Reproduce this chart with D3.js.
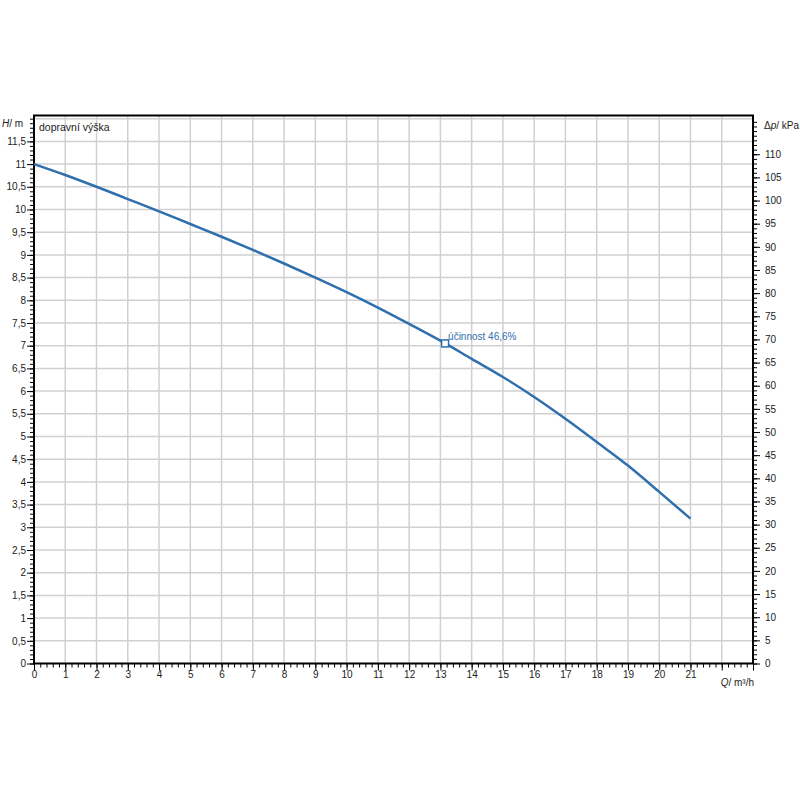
<!DOCTYPE html>
<html><head><meta charset="utf-8">
<script src="https://cdn.jsdelivr.net/npm/d3@7"></script>
<style>body{margin:0;background:#fff}svg{font-family:Arial,"Liberation Sans",sans-serif}</style>
</head><body><svg id="c" width="800" height="800"></svg>
<script>
const flowQ = [0,1,2,3,4,5,6,7,8,9,10,11,12,13,14,15,16,17,18,19,20,21];
const headH = [11.0,10.76,10.50,10.23,9.96,9.68,9.40,9.11,8.81,8.50,8.18,7.84,7.48,7.11,6.71,6.31,5.87,5.39,4.88,4.36,3.78,3.19];
const bepQ = 13.15, bepH = 7.05, bepLabel = "účinnost 46,6%";
const xTicks = d3.range(0,22);
const yTicks = d3.range(0,11.51,0.5);
const kpaTicks = d3.range(0,111,5);
const titleText = "dopravní výška";

const svg = d3.select("#c");
const L=34,R=753,T=115.5,B=663.5;
const yMax = 12.07;
const x = d3.scaleLinear().domain([0,23]).range([L,R]);
const y = d3.scaleLinear().domain([0,yMax]).range([B,T]);
const yk = d3.scaleLinear().domain([0,yMax*9.807]).range([B,T]);
const fmt = d => String(Math.round(d*10)/10).replace(".",",");

// grid
const g = svg.append("g").attr("stroke","#d0d0d0").attr("stroke-width",1.5);
d3.range(1,23).forEach(v=>g.append("line").attr("x1",x(v)).attr("x2",x(v)).attr("y1",T).attr("y2",B));
d3.range(0.5,12.01,0.5).forEach(v=>g.append("line").attr("x1",L).attr("x2",R).attr("y1",y(v)).attr("y2",y(v)));

// axes
const minorStyle = sel => sel.select(".domain").remove();
svg.append("g").attr("transform",`translate(${L},0)`)
  .call(d3.axisLeft(y).tickValues(d3.range(0,12.01,0.1)).tickSize(4).tickFormat(""))
  .call(minorStyle).selectAll("line").attr("stroke","#000");
svg.append("g").attr("transform",`translate(${L},0)`)
  .call(d3.axisLeft(y).tickValues(yTicks).tickSize(7).tickFormat(fmt))
  .call(a=>a.select(".domain").remove())
  .call(a=>a.selectAll("text").attr("font-size",10).attr("dx",2).attr("fill","#222"))
  .call(a=>a.selectAll("line").attr("stroke","#000"));
svg.append("g").attr("transform",`translate(${R},0)`)
  .call(d3.axisRight(yk).tickValues(d3.range(0,118,1)).tickSize(4).tickFormat(""))
  .call(minorStyle).selectAll("line").attr("stroke","#000");
svg.append("g").attr("transform",`translate(${R},0)`)
  .call(d3.axisRight(yk).tickValues(kpaTicks).tickSize(7).tickFormat(d=>d))
  .call(a=>a.select(".domain").remove())
  .call(a=>a.selectAll("text").attr("font-size",10).attr("dx",2).attr("fill","#222"))
  .call(a=>a.selectAll("line").attr("stroke","#000"));
svg.append("g").attr("transform",`translate(0,${B})`)
  .call(d3.axisBottom(x).tickValues(d3.range(0,23.01,0.2)).tickSize(4).tickFormat(""))
  .call(minorStyle).selectAll("line").attr("stroke","#000");
svg.append("g").attr("transform",`translate(0,${B})`)
  .call(d3.axisBottom(x).tickValues(d3.range(0,24)).tickSize(7).tickFormat(d=>d<=21?d:""))
  .call(a=>a.select(".domain").remove())
  .call(a=>a.selectAll("text").attr("font-size",10).attr("dy",4).attr("fill","#222"))
  .call(a=>a.selectAll("line").attr("stroke","#000"));

// frame
svg.append("rect").attr("x",L).attr("y",T).attr("width",R-L).attr("height",B-T)
  .attr("fill","none").attr("stroke","#000").attr("stroke-width",2);

// axis titles
const t1 = svg.append("text").attr("x",2).attr("y",T+11).attr("font-size",10).attr("fill","#222");
t1.append("tspan").attr("font-style","italic").text("H");
t1.append("tspan").text("/ m");
const t2 = svg.append("text").attr("x",764).attr("y",T+13).attr("font-size",10).attr("fill","#222");
t2.append("tspan").text("Δ");
t2.append("tspan").attr("font-style","italic").text("p");
t2.append("tspan").text("/ kPa");
const t3 = svg.append("text").attr("x",x(22.5)).attr("y",B+22).attr("text-anchor","middle").attr("font-size",10).attr("fill","#222");
t3.append("tspan").attr("font-style","italic").text("Q");
t3.append("tspan").text("/ m³/h");

svg.append("text").attr("x",L+5).attr("y",T+15).attr("font-size",10.5).attr("fill","#222").text(titleText);

// curve
const line = d3.line().x((d,i)=>x(flowQ[i])).y(d=>y(d)).curve(d3.curveMonotoneX);
svg.append("path").datum(headH).attr("d",line).attr("fill","none")
  .attr("stroke","#2f6fad").attr("stroke-width",2.5);

// BEP marker
svg.append("rect").attr("x",x(bepQ)-3.5).attr("y",y(bepH)-3.5).attr("width",7).attr("height",7)
  .attr("fill","#fff").attr("stroke","#2f6fad").attr("stroke-width",1.5);
svg.append("text").attr("x",x(bepQ)+3).attr("y",y(bepH)-3).attr("font-size",10).attr("fill","#2f6fad").text(bepLabel);
</script></body></html>
